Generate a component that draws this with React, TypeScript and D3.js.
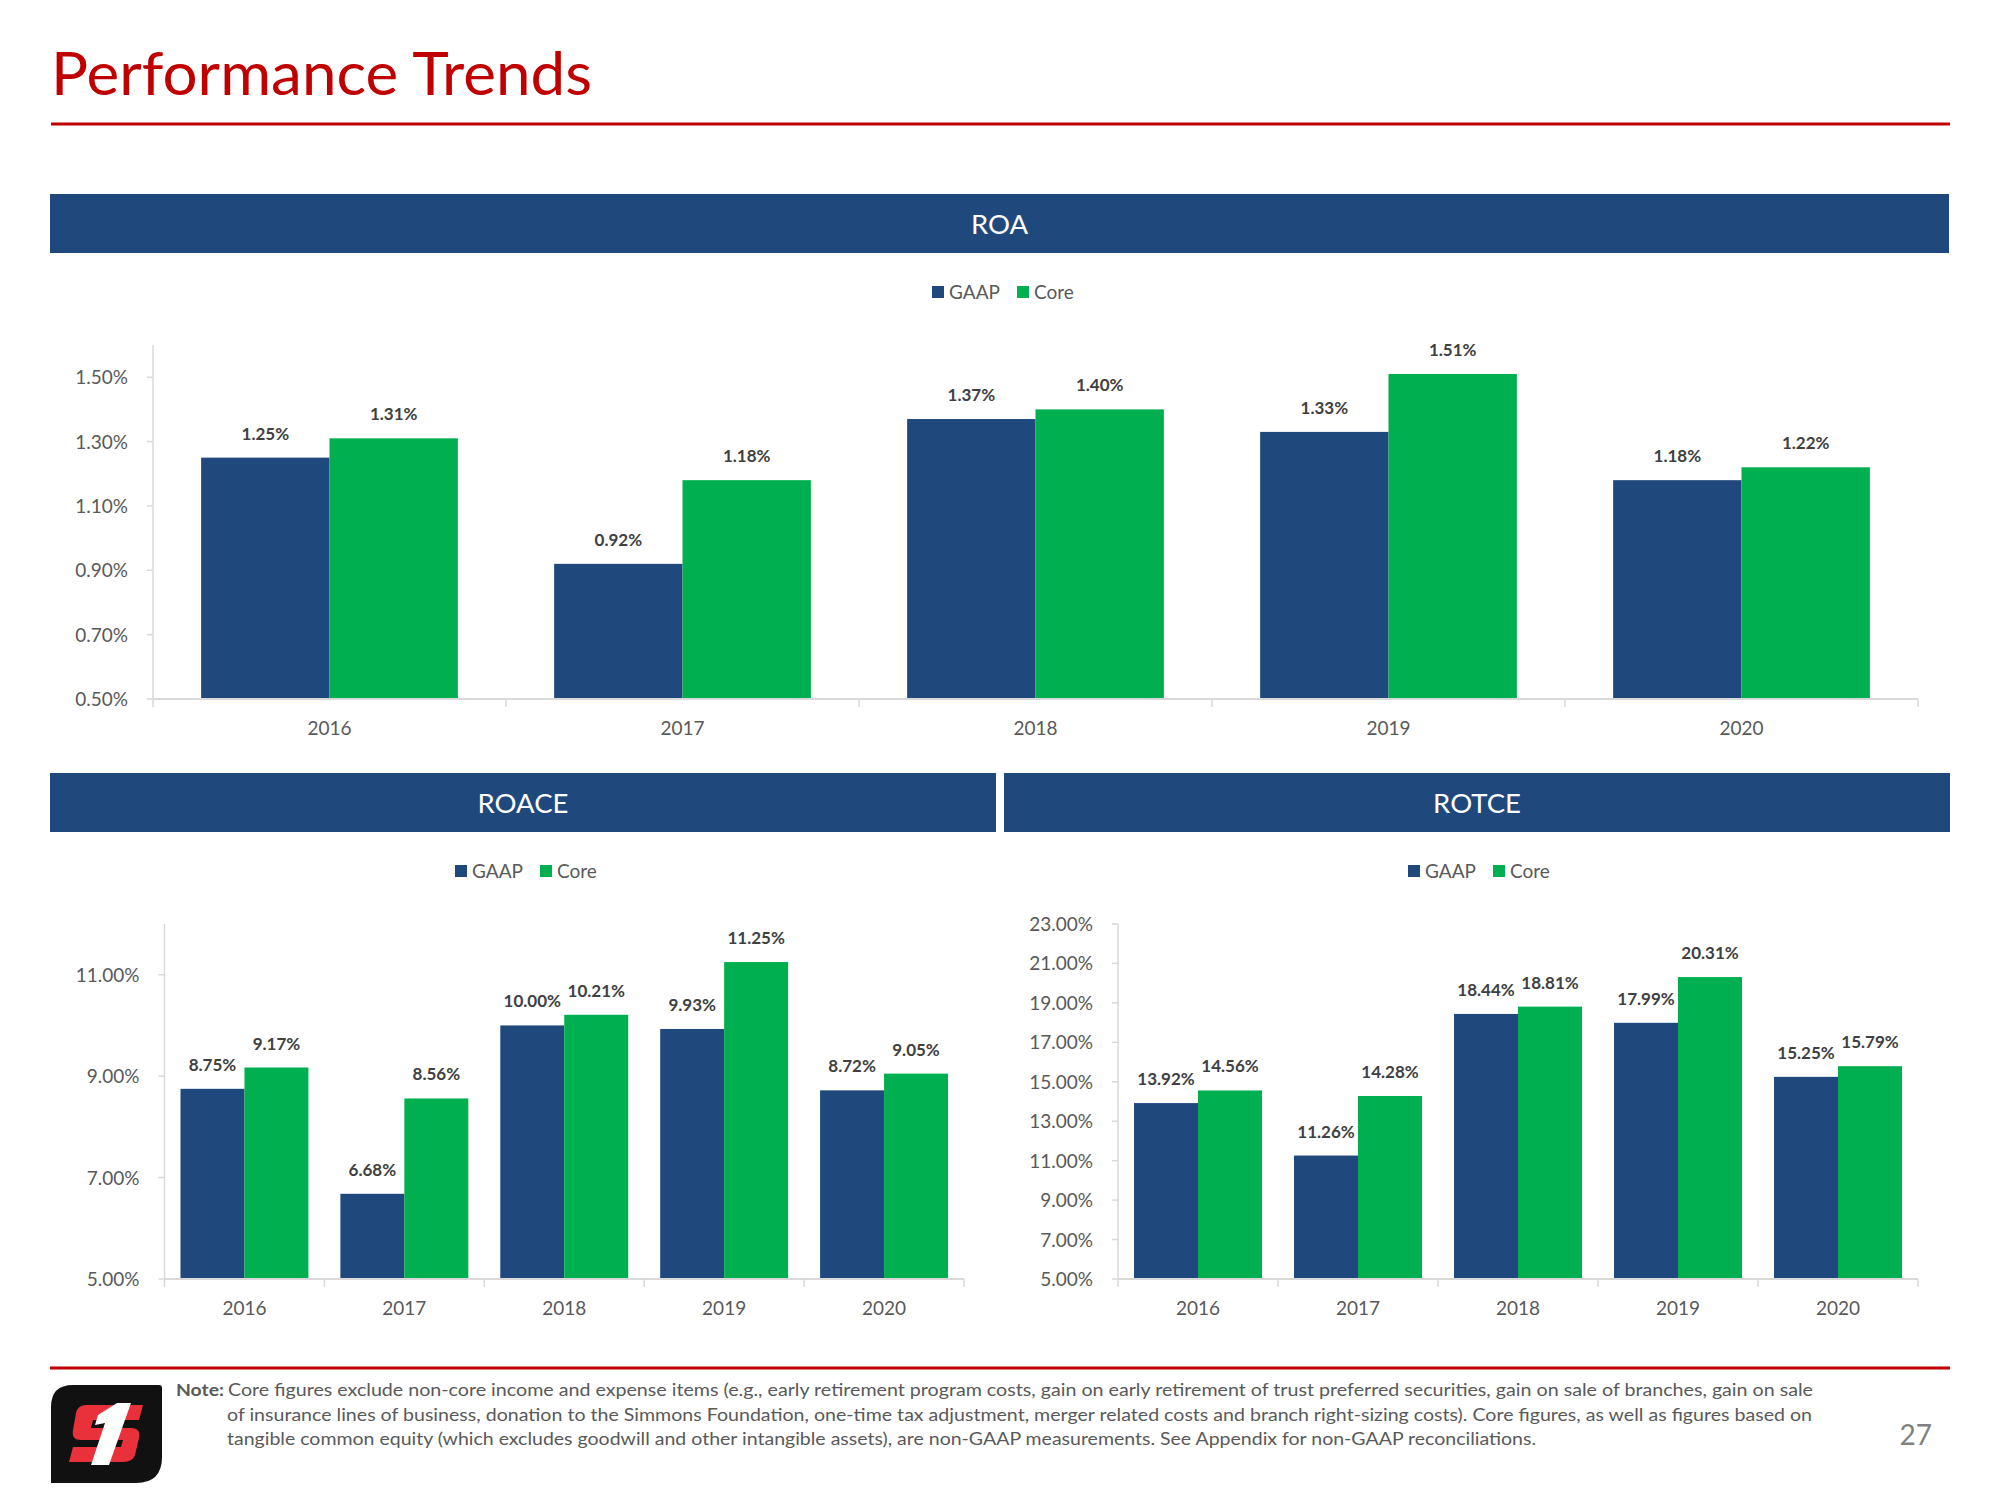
import React, { useEffect } from 'react';
import * as d3 from 'd3';

const years = ['2016', '2017', '2018', '2019', '2020'];
const seriesNames = ['GAAP', 'Core'];

const roaGaap = [1.25, 0.92, 1.37, 1.33, 1.18];
const roaCore = [1.31, 1.18, 1.40, 1.51, 1.22];
const roaTicks = [0.5, 0.7, 0.9, 1.1, 1.3, 1.5];

const roaceGaap = [8.75, 6.68, 10.0, 9.93, 8.72];
const roaceCore = [9.17, 8.56, 10.21, 11.25, 9.05];
const roaceTicks = [5, 7, 9, 11];

const rotceGaap = [13.92, 11.26, 18.44, 17.99, 15.25];
const rotceCore = [14.56, 14.28, 18.81, 20.31, 15.79];
const rotceTicks = [5, 7, 9, 11, 13, 15, 17, 19, 21, 23];

const noteLines = [
  'Core figures exclude non-core income and expense items (e.g., early retirement program costs, gain on early retirement of trust preferred securities, gain on sale of branches, gain on sale',
  'of insurance lines of business, donation to the Simmons Foundation, one-time tax adjustment, merger related costs and branch right-sizing costs). Core figures, as well as figures based on',
  'tangible common equity (which excludes goodwill and other intangible assets), are non-GAAP measurements. See Appendix for non-GAAP reconciliations.',
];

const NAVY = '#1F497D';
const GREEN = '#00B050';
const RED = '#C00000';
const FONT = 'Lato, "Open Sans", sans-serif';

type ChartProps = {
  x0: number;
  x1: number;
  yTop: number;
  yBottom: number;
  domain: [number, number];
  ticks: number[];
  gaap: number[];
  core: number[];
  outerPad: number;
  legendX: number;
  legendY: number;
};

function BarChart({ x0, x1, yTop, yBottom, domain, ticks, gaap, core, outerPad, legendX, legendY }: ChartProps) {
  const x = d3.scaleBand<string>().domain(years).range([x0, x1]).paddingInner(0).paddingOuter(0);
  const xs = d3.scaleBand<string>().domain(seriesNames).range([0, x.bandwidth()]).paddingInner(0).paddingOuter(outerPad);
  const y = d3.scaleLinear().domain(domain).range([yBottom, yTop]);
  const fmt = d3.format('.2f');
  const data = [gaap, core];
  const colors = [NAVY, GREEN];
  const boundaries = years.map((yr) => x(yr) as number).concat([x1]);
  return (
    <g>
      {/* legend */}
      <g fontFamily={FONT} fontSize={19} fill="#595959">
        <rect x={legendX} y={legendY - 6} width={12} height={12} fill={NAVY} />
        <text x={legendX + 17} y={legendY + 7}>GAAP</text>
        <rect x={legendX + 85} y={legendY - 6} width={12} height={12} fill={GREEN} />
        <text x={legendX + 102} y={legendY + 7}>Core</text>
      </g>
      {/* y axis */}
      <line x1={x0} x2={x0} y1={yTop} y2={yBottom} stroke="#D9D9D9" strokeWidth={1.5} />
      {ticks.map((t) => (
        <g key={t}>
          <line x1={x0 - 6} x2={x0} y1={y(t)} y2={y(t)} stroke="#D9D9D9" strokeWidth={1.5} />
          <text x={x0 - 25} y={y(t) + 7} textAnchor="end" fontFamily={FONT} fontSize={19} fill="#595959">
            {fmt(t) + '%'}
          </text>
        </g>
      ))}
      {/* bars */}
      {years.map((yr, i) => (
        <g key={yr}>
          {data.map((vals, s) => {
            const bx = (x(yr) as number) + (xs(seriesNames[s]) as number);
            const by = y(vals[i]);
            return (
              <g key={s}>
                <rect x={bx} y={by} width={xs.bandwidth()} height={yBottom - by} fill={colors[s]} />
                <text
                  x={bx + xs.bandwidth() / 2}
                  y={by - 18}
                  textAnchor="middle"
                  fontFamily={FONT}
                  fontWeight="bold"
                  fontSize={17}
                  fill="#404040"
                >
                  {fmt(vals[i]) + '%'}
                </text>
              </g>
            );
          })}
          <text
            x={(x(yr) as number) + x.bandwidth() / 2}
            y={yBottom + 36}
            textAnchor="middle"
            fontFamily={FONT}
            fontSize={19}
            fill="#595959"
          >
            {yr}
          </text>
        </g>
      ))}
      {/* x axis */}
      <line x1={x0} x2={x1} y1={yBottom} y2={yBottom} stroke="#D9D9D9" strokeWidth={2} />
      {boundaries.map((bx, i) => (
        <line key={i} x1={bx} x2={bx} y1={yBottom} y2={yBottom + 8} stroke="#D9D9D9" strokeWidth={1.5} />
      ))}
    </g>
  );
}

function Header({ x, y, w, h, label }: { x: number; y: number; w: number; h: number; label: string }) {
  return (
    <g>
      <rect x={x} y={y} width={w} height={h} fill={NAVY} />
      <text x={x + w / 2} y={y + h / 2 + 10} textAnchor="middle" fontFamily={FONT} fontSize={27.5} fill="#FFFFFF">
        {label}
      </text>
    </g>
  );
}

function Logo({ x, y }: { x: number; y: number }) {
  return (
    <g transform={`translate(${x},${y})`}>
      <path d="M0,22 Q0,0 22,0 L108,0 Q111,0 111,3 L111,72 Q111,98 85,98 L0,98 Z" fill="#111111" />
      <path d="M30,20 L92,20 L88,35 L42,35 L40,43 L80,43 Q90,43 88,53 L84,70 Q82,77 72,77 L18,77 L22,62 L70,62 L72,55 L30,55 Q20,55 22,45 L25,28 Q27,20 35,20 Z" fill="#E8313A" />
      <path d="M47,30 L66,18 L80,18 L58,80 L40,80 L54,38 L44,40 Z" fill="#FFFFFF" />
    </g>
  );
}

export default function App() {
  useEffect(() => {
    document.body.style.margin = '0';
  }, []);
  return (
    <svg
      width={2000}
      height={1500}
      viewBox="0 0 2000 1500"
      style={{ display: 'block', position: 'absolute', left: 0, top: 0, background: '#FFFFFF' }}
    >
      <rect x={0} y={0} width={2000} height={1500} fill="#FFFFFF" />
      <text x={51} y={95} fontFamily={FONT} fontSize={60} fill={RED} textLength={541} lengthAdjust="spacingAndGlyphs">
        Performance Trends
      </text>
      <rect x={51} y={122.5} width={1899} height={3} fill={RED} />

      <Header x={50} y={194} w={1899} h={59} label="ROA" />
      <Header x={50} y={773} w={946} h={59} label="ROACE" />
      <Header x={1004} y={773} w={946} h={59} label="ROTCE" />

      <BarChart
        x0={153}
        x1={1918}
        yTop={345}
        yBottom={699}
        domain={[0.5, 1.6]}
        ticks={roaTicks}
        gaap={roaGaap}
        core={roaCore}
        outerPad={0.375}
        legendX={932}
        legendY={292}
      />
      <BarChart
        x0={164.5}
        x1={964}
        yTop={924}
        yBottom={1279}
        domain={[5, 12]}
        ticks={roaceTicks}
        gaap={roaceGaap}
        core={roaceCore}
        outerPad={0.25}
        legendX={455}
        legendY={871}
      />
      <BarChart
        x0={1118}
        x1={1918}
        yTop={924}
        yBottom={1279}
        domain={[5, 23]}
        ticks={rotceTicks}
        gaap={rotceGaap}
        core={rotceCore}
        outerPad={0.25}
        legendX={1408}
        legendY={871}
      />

      <rect x={50} y={1366.5} width={1900} height={3} fill={RED} />
      <Logo x={51} y={1385} />
      <g fontFamily={FONT} fontSize={17.5} fill="#595959">
        <text x={176} y={1396} fontWeight="bold" textLength={48} lengthAdjust="spacingAndGlyphs">Note:</text>
        <text x={228} y={1396} textLength={1585} lengthAdjust="spacingAndGlyphs">{noteLines[0]}</text>
        <text x={227} y={1420.5} textLength={1585} lengthAdjust="spacingAndGlyphs">{noteLines[1]}</text>
        <text x={227} y={1445} textLength={1309} lengthAdjust="spacingAndGlyphs">{noteLines[2]}</text>
      </g>
      <text x={1932} y={1445} textAnchor="end" fontFamily={FONT} fontSize={28} fill="#808080">27</text>
    </svg>
  );
}
